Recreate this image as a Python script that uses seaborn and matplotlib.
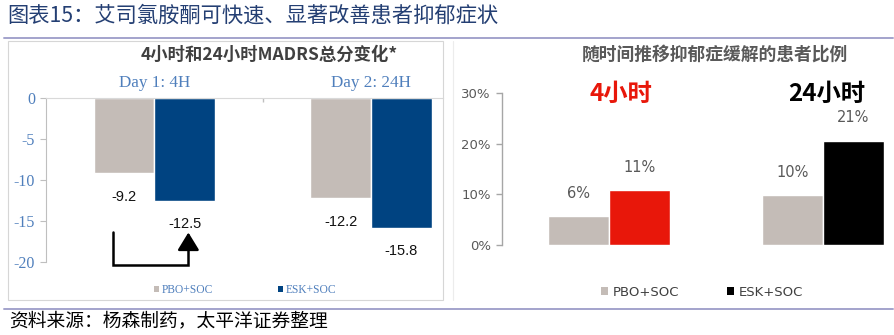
import matplotlib
matplotlib.use("Agg")
import matplotlib.pyplot as plt
import seaborn as sns
import pandas as pd
from matplotlib.patches import Rectangle, Patch
from matplotlib.lines import Line2D

# ---------------- data ----------------
title_text = "图表15：艾司氯胺酮可快速、显著改善患者抑郁症状"
source_text = "资料来源：杨森制药，太平洋证券整理"

left_title = "4小时和24小时MADRS总分变化*"
left_cats = ["Day 1: 4H", "Day 2: 24H"]
groups = ["PBO+SOC", "ESK+SOC"]
left_pbo = [-9.2, -12.2]
left_esk = [-12.5, -15.8]
left_yticks = [0, -5, -10, -15, -20]

right_title = "随时间推移抑郁症缓解的患者比例"
right_cats = ["4小时", "24小时"]
right_pbo = [5.7, 9.9]
right_esk = [10.8, 20.6]
right_yticks = [0, 10, 20, 30]

# ---------------- style ----------------
sns.set_theme(style="white")
plt.rcParams['font.family'] = ['Noto Sans CJK SC', 'DejaVu Sans']
plt.rcParams['axes.unicode_minus'] = False

W, H = 895, 335
fig = plt.figure(figsize=(W / 100, H / 100), dpi=100)
fig.patch.set_facecolor("white")


def ax_px(x0, y0, x1, y1):
    return fig.add_axes([x0 / W, 1 - y1 / H, (x1 - x0) / W, (y1 - y0) / H])


def fy(y):
    return 1 - y / H


def fx(x):
    return x / W


# title, rules, source
fig.text(fx(7), fy(16), title_text, fontsize=15.3, color="#243f73",
         ha="left", va="center")
fig.add_artist(Line2D([fx(4), fx(893)], [fy(37.5), fy(37.5)], color="#a3a3cc", lw=1.4))
fig.add_artist(Line2D([fx(4), fx(893)], [fy(308.5), fy(308.5)], color="#a3a3cc", lw=1.4))
fig.text(fx(9), fy(321), source_text, fontsize=13.5, color="black",
         ha="left", va="center", style="italic")

# panel frames
fig.add_artist(Rectangle((fx(8), fy(300)), fx(443) - fx(8), fy(41) - fy(300),
                         fill=False, edgecolor="#d6d6d6", lw=0.8))
fig.add_artist(Line2D([fx(453), fx(453)], [fy(41), fy(300)], color="#ececec", lw=0.8))

# ---------------- left panel ----------------
pal_left = {"PBO+SOC": "#c4bcb7", "ESK+SOC": "#004381"}
df_l = pd.DataFrame({
    "cat": left_cats * 2,
    "grp": [groups[0]] * 2 + [groups[1]] * 2,
    "val": left_pbo + left_esk,
})
axl = ax_px(46, 98, 443, 262)
sns.barplot(data=df_l, x="cat", y="val", hue="grp", hue_order=groups,
            order=left_cats, palette=pal_left, width=0.56, saturation=1,
            gap=0, ax=axl, legend=False, errorbar=None)
axl.set_xlim(-0.5, 1.332)
axl.set_ylim(-20, 0)
axl.set_xlabel("")
axl.set_ylabel("")
for s in ["right", "bottom"]:
    axl.spines[s].set_visible(False)
axl.spines["left"].set_color("#bfbfbf")
axl.spines["top"].set_color("#d9d9d9")
axl.spines["left"].set_linewidth(0.8)
axl.spines["top"].set_linewidth(0.8)
axl.xaxis.tick_top()
axl.set_xticks(range(len(left_cats)))
axl.set_xticklabels(left_cats, family="Liberation Serif", fontsize=12.3, color="#4f7fbc")
axl.set_xticks([0.5], minor=True)
axl.tick_params(axis="x", which="major", length=0, pad=5)
axl.tick_params(axis="x", which="minor", direction="in", length=3, color="#bfbfbf",
                top=True, bottom=False)
axl.set_yticks(left_yticks)
axl.set_yticklabels([str(v) for v in left_yticks], family="Liberation Serif",
                    fontsize=11.5, color="#4f7fbc")
axl.tick_params(axis="y", length=4, color="#bfbfbf", left=True, pad=4, width=0.8)

for cont in axl.containers:
    axl.bar_label(cont, labels=[f"{v:.1f}" for v in cont.datavalues],
                  padding=12, fontsize=10.5, family="Liberation Sans", color="#111111")

# arrow between -9.2 and -12.5 (day 1)
ax0 = -0.189
ax1 = 0.157
axl.plot([ax0, ax0, ax1, ax1], [-16.3, -20.4, -20.4, -17.8], color="black", lw=1.8,
         clip_on=False, solid_joinstyle="miter")
axl.annotate("", xy=(ax1, -16.4), xytext=(ax1, -17.9),
             arrowprops=dict(arrowstyle="-|>,head_length=0.9,head_width=0.55",
                             color="black", lw=1.8, shrinkA=0, shrinkB=0),
             annotation_clip=False)

hl = [Patch(facecolor=pal_left[g], edgecolor="none") for g in groups]
leg = axl.legend(hl, groups, loc="center", bbox_to_anchor=(fx(245), fy(290)),
                 bbox_transform=fig.transFigure, ncol=2, frameon=False,
                 handlelength=0.5, handleheight=0.5, handletextpad=0.2,
                 columnspacing=5.6, prop={"family": "Liberation Serif", "size": 8.3})
for t in leg.get_texts():
    t.set_color("#4f7fbc")

fig.text(fx(269), fy(55), left_title, fontsize=12.5, fontweight="bold",
         color="#404040", ha="center", va="center")

# ---------------- right panel ----------------
pal_right_pbo = "#c4bcb7"
esk_colors = ["#e8170a", "#000000"]
df_r = pd.DataFrame({
    "cat": right_cats * 2,
    "grp": [groups[0]] * 2 + [groups[1]] * 2,
    "val": right_pbo + right_esk,
})
axr = ax_px(502, 93, 890, 245)
sns.barplot(data=df_r, x="cat", y="val", hue="grp", hue_order=groups,
            order=right_cats, palette={"PBO+SOC": pal_right_pbo, "ESK+SOC": "#000000"},
            width=0.57, saturation=1, gap=0, ax=axr, legend=False, errorbar=None)
# color ESK bars per time point
for patch, c in zip(axr.containers[1].patches, esk_colors):
    patch.set_facecolor(c)
axr.set_xlim(-0.5, 1.313)
axr.set_ylim(0, 30)
axr.set_xlabel("")
axr.set_ylabel("")
for s in ["right", "bottom", "top"]:
    axr.spines[s].set_visible(False)
axr.spines["left"].set_color("#a6a6a6")
axr.spines["left"].set_linewidth(1.0)
axr.set_xticks([])
axr.set_yticks(right_yticks)
axr.set_yticklabels([f"{v}%" for v in right_yticks], family="DejaVu Sans",
                    fontsize=9.5, color="#595959")
axr.tick_params(axis="y", length=4, color="#a6a6a6", left=True, pad=4, width=1.0)

for cont in axr.containers:
    axr.bar_label(cont, labels=[f"{round(v)}%" for v in cont.datavalues],
                  padding=11, fontsize=10.5, family="DejaVu Sans", color="#595959")

head_offsets = [0.056, 0.015]
for i, (cat, col) in enumerate(zip(right_cats, esk_colors)):
    axr.annotate(cat, xy=(i + head_offsets[i], 1), xycoords=("data", "axes fraction"),
                 xytext=(0, -1), textcoords="offset points",
                 fontsize=17.5, fontweight="bold", color=col, ha="center", va="center")

hr = [Patch(facecolor=pal_right_pbo, edgecolor="none"),
      Patch(facecolor="#000000", edgecolor="none")]
legr = axr.legend(hr, groups, loc="center", bbox_to_anchor=(fx(702), fy(292)),
                  bbox_transform=fig.transFigure, ncol=2, frameon=False,
                  handlelength=0.55, handleheight=0.55, handletextpad=0.35,
                  columnspacing=3.6, prop={"family": "DejaVu Sans", "size": 9.5})
for t in legr.get_texts():
    t.set_color("#404040")

fig.text(fx(715), fy(55), right_title, fontsize=12.8, fontweight="bold",
         color="#595959", ha="center", va="center")

fig.savefig("out.png", dpi=100, facecolor="white")
